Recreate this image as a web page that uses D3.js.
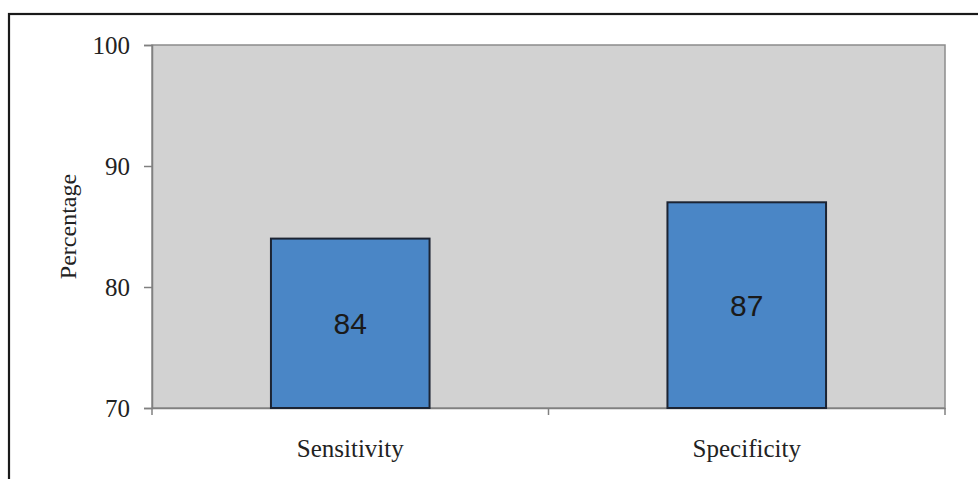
<!DOCTYPE html>
<html><head><meta charset="utf-8">
<script src="https://cdn.jsdelivr.net/npm/d3@7"></script>
<style>body{margin:0;background:#fff}svg{display:block}</style>
</head><body>
<svg id="c" width="978" height="479"></svg>
<script>
const categories = ["Sensitivity", "Specificity"];
const values = [84, 87];
const yTicks = [70, 80, 90, 100];

const svg = d3.select("#c");
const m = {left: 152, top: 45, right: 945, bottom: 408};
const serif = "'Liberation Serif','Times New Roman',serif";

// outer frame
svg.append("rect").attr("x", 9).attr("y", 14).attr("width", 1000).attr("height", 500)
  .attr("fill", "none").attr("stroke", "#1a1a1a").attr("stroke-width", 2.2);

const x = d3.scaleBand().domain(categories).range([m.left, m.right]).paddingInner(0).paddingOuter(0);
const y = d3.scaleLinear().domain([70, 100]).range([m.bottom, m.top]);

// plot area
svg.append("rect").attr("x", m.left).attr("y", m.top).attr("width", m.right - m.left)
  .attr("height", m.bottom - m.top).attr("fill", "#d2d2d2").attr("stroke", "#8c8c8c").attr("stroke-width", 1.5);

// y axis
const ya = svg.append("g").attr("transform", `translate(${m.left},0)`)
  .call(d3.axisLeft(y).tickValues(yTicks).tickSize(8).tickPadding(14));
ya.select(".domain").attr("stroke", "#808080").attr("stroke-width", 1.5);
ya.selectAll(".tick line").attr("stroke", "#808080").attr("stroke-width", 1.5);
ya.selectAll("text").attr("font-family", serif).attr("font-size", 25).attr("fill", "#222");

// x axis
const xa = svg.append("g").attr("transform", `translate(0,${m.bottom})`)
  .call(d3.axisBottom(x).tickSize(0).tickPadding(31));
xa.select(".domain").attr("stroke", "#808080").attr("stroke-width", 1.5);
xa.selectAll("text").attr("font-family", serif).attr("font-size", 25).attr("fill", "#222");
// boundary ticks between categories
const bounds = [m.left, m.left + x.bandwidth(), m.right];
svg.append("g").selectAll("line").data(bounds).join("line")
  .attr("x1", d => d).attr("x2", d => d).attr("y1", m.bottom).attr("y2", m.bottom + 7)
  .attr("stroke", "#808080").attr("stroke-width", 1.5);

// bars
const bw = x.bandwidth() * 0.4;
svg.append("g").selectAll("rect").data(values).join("rect")
  .attr("x", (d, i) => x(categories[i]) + x.bandwidth() / 2 - bw / 2)
  .attr("y", d => y(d)).attr("width", bw).attr("height", d => y(70) - y(d))
  .attr("fill", "#4a86c6").attr("stroke", "#1c2433").attr("stroke-width", 2);

// value labels
svg.append("g").selectAll("text").data(values).join("text")
  .attr("x", (d, i) => x(categories[i]) + x.bandwidth() / 2)
  .attr("y", d => (y(d) + y(70)) / 2)
  .attr("dy", "0.35em").attr("text-anchor", "middle")
  .attr("font-family", "'Liberation Sans',Arial,sans-serif").attr("font-size", 30).attr("fill", "#1a1a1a")
  .text(d => d);

// y label
svg.append("text").attr("transform", `translate(76,${(m.top + m.bottom) / 2}) rotate(-90)`)
  .attr("text-anchor", "middle")
  .attr("font-family", serif).attr("font-size", 24).attr("fill", "#222")
  .text("Percentage");
</script>
</body></html>
